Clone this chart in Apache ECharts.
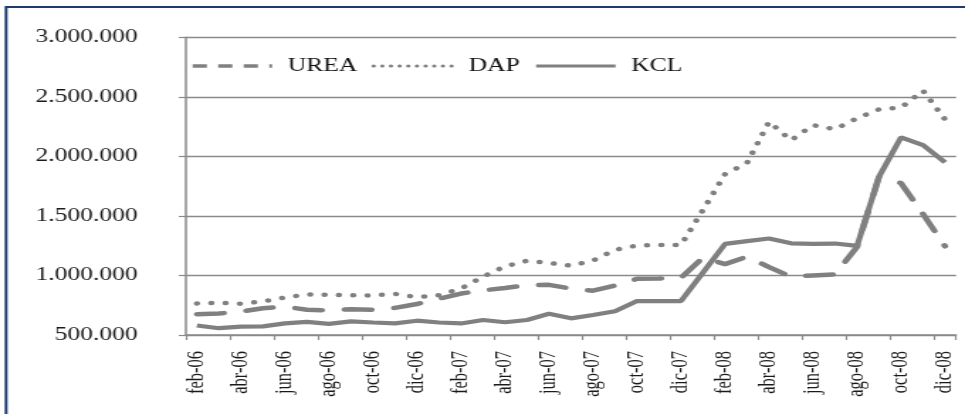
<!DOCTYPE html>
<html><head><meta charset="utf-8">
<script src="https://cdn.jsdelivr.net/npm/echarts@6/dist/echarts.min.js"></script>
<style>
html,body{margin:0;padding:0;background:#fff;overflow:hidden;width:965px;height:414px}
#chart{position:absolute;left:0;top:0;width:680px;height:414px;transform:scaleX(1.41912);transform-origin:0 0;}
</style></head><body><div id="chart"></div>
<script>
const months = ['feb-06','mar-06','abr-06','may-06','jun-06','jul-06','ago-06','sep-06','oct-06','nov-06','dic-06',
  'ene-07','feb-07','mar-07','abr-07','may-07','jun-07','jul-07','ago-07','sep-07','oct-07','nov-07','dic-07',
  'ene-08','feb-08','mar-08','abr-08','may-08','jun-08','jul-08','ago-08','sep-08','oct-08','nov-08','dic-08'];
const urea = [675000,680000,697000,725000,738000,712000,707000,716000,712000,728000,760000,
  805000,848000,875000,895000,918000,921000,890000,872000,915000,972000,975000,980000,
  1150000,1095000,1158000,1070000,990000,1000000,1010000,1240000,1830000,1775000,1515000,1245000];
const dap = [765000,770000,763000,782000,815000,841000,838000,834000,832000,845000,818000,
  835000,890000,990000,1077000,1123000,1105000,1082000,1125000,1215000,1252000,1256000,1256000,
  1550000,1850000,1945000,2291000,2135000,2262000,2228000,2320000,2395000,2410000,2552000,2310000];
const kcl = [580000,557000,570000,572000,598000,610000,594000,615000,605000,598000,620000,
  605000,597000,626000,607000,626000,678000,640000,668000,700000,785000,785000,785000,
  1025000,1265000,1288000,1310000,1270000,1265000,1268000,1248000,1830000,2160000,2095000,1950000];
const seriesNames = ['UREA','DAP','KCL'];
const yMin = 500000, yMax = 3000000, yStep = 500000;

const gray = '#808080';
const fmt = v => String(v).replace(/\B(?=(\d{3})+(?!\d))/g, '.');
const chart = echarts.init(document.getElementById('chart'), null, {renderer:'canvas'});
const hidden = {color: 'rgba(0,0,0,0)', borderWidth: 0, opacity: 0};
chart.setOption({
  animation: false,
  backgroundColor: '#fff',
  graphic: [{
    type: 'rect', shape: {x: 4.3, y: 7, width: 1000, height: 1000},
    style: {fill: 'none', stroke: '#1f3a6e', lineWidth: 2}, z: 100
  }],
  grid: {left: 131, right: 6.3, top: 37.3, bottom: 79},
  legend: {
    left: 129, top: 52, itemWidth: 56, itemHeight: 20, itemGap: 10,
    textStyle: {fontFamily: 'Liberation Serif', fontSize: 18, color: '#111', padding: [0,0,0,6]},
    data: [
      {name: seriesNames[0], itemStyle: hidden, lineStyle: {type: [10, 8], width: 3.5, cap: 'butt'}},
      {name: seriesNames[1], itemStyle: hidden, lineStyle: {type: [0.1, 6], width: 3, cap: 'round'}},
      {name: seriesNames[2], itemStyle: hidden, lineStyle: {type: 'solid', width: 3}}
    ]
  },
  xAxis: {
    type: 'category', data: months, boundaryGap: true,
    axisLine: {lineStyle: {color: '#8a8a8a', width: 1.5}},
    axisTick: {show: true, interval: 1, length: 5, lineStyle: {color: '#8a8a8a', width: 1.2}},
    axisLabel: {interval: 1, rotate: 90, margin: 16, fontFamily: 'Liberation Serif', fontSize: 16.5, color: '#1a1a1a'},
    splitLine: {show: false}
  },
  yAxis: {
    type: 'value', min: yMin, max: yMax, interval: yStep,
    axisLine: {show: true, lineStyle: {color: '#8a8a8a', width: 1.5}},
    axisTick: {show: true, length: 5, lineStyle: {color: '#8a8a8a', width: 1.2}},
    axisLabel: {formatter: fmt, margin: 34, fontFamily: 'Liberation Serif', fontSize: 18, color: '#1a1a1a'},
    splitLine: {lineStyle: {color: '#8a8a8a', width: 1.3}}
  },
  series: [
    {name: seriesNames[0], type: 'line', data: urea, symbol: 'none', color: gray,
      lineStyle: {color: gray, width: 4.5, type: [19, 16], cap: 'round'}},
    {name: seriesNames[1], type: 'line', data: dap, symbol: 'none', color: gray,
      lineStyle: {color: gray, width: 4.5, type: [0.1, 10], cap: 'round'}},
    {name: seriesNames[2], type: 'line', data: kcl, symbol: 'none', color: gray,
      lineStyle: {color: gray, width: 4.2, type: 'solid'}}
  ]
});
</script></body></html>
